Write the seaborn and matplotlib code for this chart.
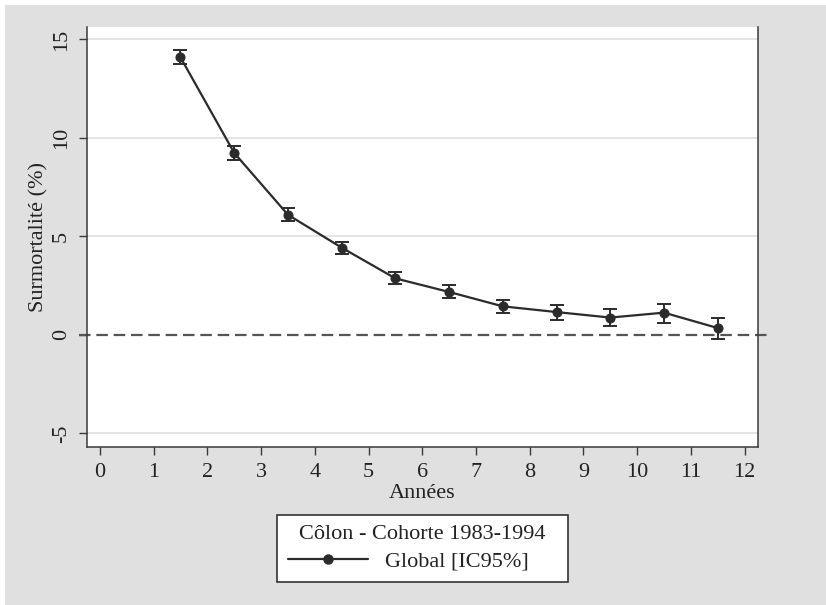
import matplotlib
matplotlib.use("Agg")
import matplotlib.pyplot as plt
import numpy as np
import pandas as pd
import seaborn as sns
from matplotlib.lines import Line2D
from matplotlib.patches import Rectangle

# ---- data ----
years = [1.5, 2.5, 3.5, 4.5, 5.5, 6.5, 7.5, 8.5, 9.5, 10.5, 11.5]
surmortalite = [14.09, 9.24, 6.10, 4.43, 2.87, 2.18, 1.45, 1.16, 0.88, 1.13, 0.35]
ci_low = [13.75, 8.90, 5.76, 4.11, 2.56, 1.85, 1.11, 0.74, 0.43, 0.60, -0.19]
ci_high = [14.48, 9.58, 6.44, 4.73, 3.17, 2.51, 1.76, 1.54, 1.30, 1.59, 0.88]
x_ticks = list(range(0, 13))
y_ticks = [-5, 0, 5, 10, 15]
y_grid = [-5, 5, 10, 15]

legend_title = "Côlon - Cohorte 1983-1994"
series_label = "Global [IC95%]"
x_label = "Années"
y_label = "Surmortalité (%)"

df = pd.DataFrame({"annee": years, "surmort": surmortalite,
                   "lo": ci_low, "hi": ci_high})

sns.set_theme(style="white")
plt.rcParams["font.family"] = ["Liberation Serif", "DejaVu Serif"]
plt.rcParams["axes.unicode_minus"] = False

W, H = 826, 605
fig = plt.figure(figsize=(W / 100, H / 100), dpi=100)
fig.patch.set_facecolor("white")
fig.patches.append(Rectangle((5 / W, 0), 1, 1 - 5 / H, transform=fig.transFigure,
                             facecolor="#e0e0e0", edgecolor="none", zorder=-10))

L, R, T, B = 87, 758, 27, 447
ax = fig.add_axes([L / W, 1 - B / H, (R - L) / W, (B - T) / H])
ax.set_facecolor("white")

dark = "#2b2b2b"
for yv in y_grid:
    ax.axhline(yv, color="#e2e2e2", lw=1.3, zorder=0)
ax.axhline(0, xmin=-0.012, xmax=1.013, color="#555555", lw=1.6,
           ls=(0, (5.2, 2.6)), clip_on=False, zorder=1)

sns.lineplot(data=df, x="annee", y="surmort", ax=ax, color=dark, lw=1.6,
             marker="o", markersize=6.5, markeredgecolor=dark, zorder=3)
ax.errorbar(df["annee"], df["surmort"],
            yerr=[df["surmort"] - df["lo"], df["hi"] - df["surmort"]],
            fmt="none", ecolor=dark, elinewidth=1.4, capsize=5, capthick=1.4,
            zorder=3)

ax.set_xlim(-0.24, 12.25)
ax.set_ylim(-5.69, 15.63)
ax.set_xticks(x_ticks)
ax.set_yticks(y_ticks)

for s in ["left", "bottom", "right"]:
    ax.spines[s].set_color("#3a3a3a")
    ax.spines[s].set_linewidth(1.1)
ax.spines["top"].set_visible(False)

ax.tick_params(axis="both", which="major", direction="out", length=5.5,
               width=1.0, color="#3a3a3a", labelsize=16, labelcolor="#222222",
               bottom=True, left=True)
ax.tick_params(axis="x", pad=6)
ax.tick_params(axis="y", pad=6)
for lab in ax.get_yticklabels():
    lab.set_rotation(90)
    lab.set_va("center")
    lab.set_ha("right")

ax.set_xlabel(x_label, fontsize=16, color="#222222")
ax.set_ylabel(y_label, fontsize=16, color="#222222")
ax.xaxis.set_label_coords(0.4996, (B - 494) / (B - T))
ax.xaxis.label.set_va("center")
ax.yaxis.set_label_coords((39 - L) / (R - L), 0.5)
ax.yaxis.label.set_va("center")

# legend frame (drawn as a box in figure coordinates)
lx0, lx1, ly0, ly1 = 277, 568, 515, 582
fig.patches.append(Rectangle((lx0 / W, 1 - ly1 / H), (lx1 - lx0) / W, (ly1 - ly0) / H,
                             transform=fig.transFigure, facecolor="white",
                             edgecolor="#333333", lw=1.2, zorder=1))

handle = Line2D([], [], color=dark, lw=1.6, marker="o", markersize=6.5)
leg = fig.legend([handle], [series_label + "     "], title=legend_title,
                 loc="center", bbox_to_anchor=((lx0 + lx1) / 2 / W, 1 - (ly0 + ly1) / 2 / H),
                 fontsize=16, title_fontsize=16, frameon=False,
                 handlelength=3.6, numpoints=1, borderpad=0.0,
                 labelspacing=0.3, handletextpad=0.8, borderaxespad=0)
leg.set_zorder(5)
leg.get_title().set_color("#222222")
for t in leg.get_texts():
    t.set_color("#222222")

fig.savefig("out.png", dpi=100)
